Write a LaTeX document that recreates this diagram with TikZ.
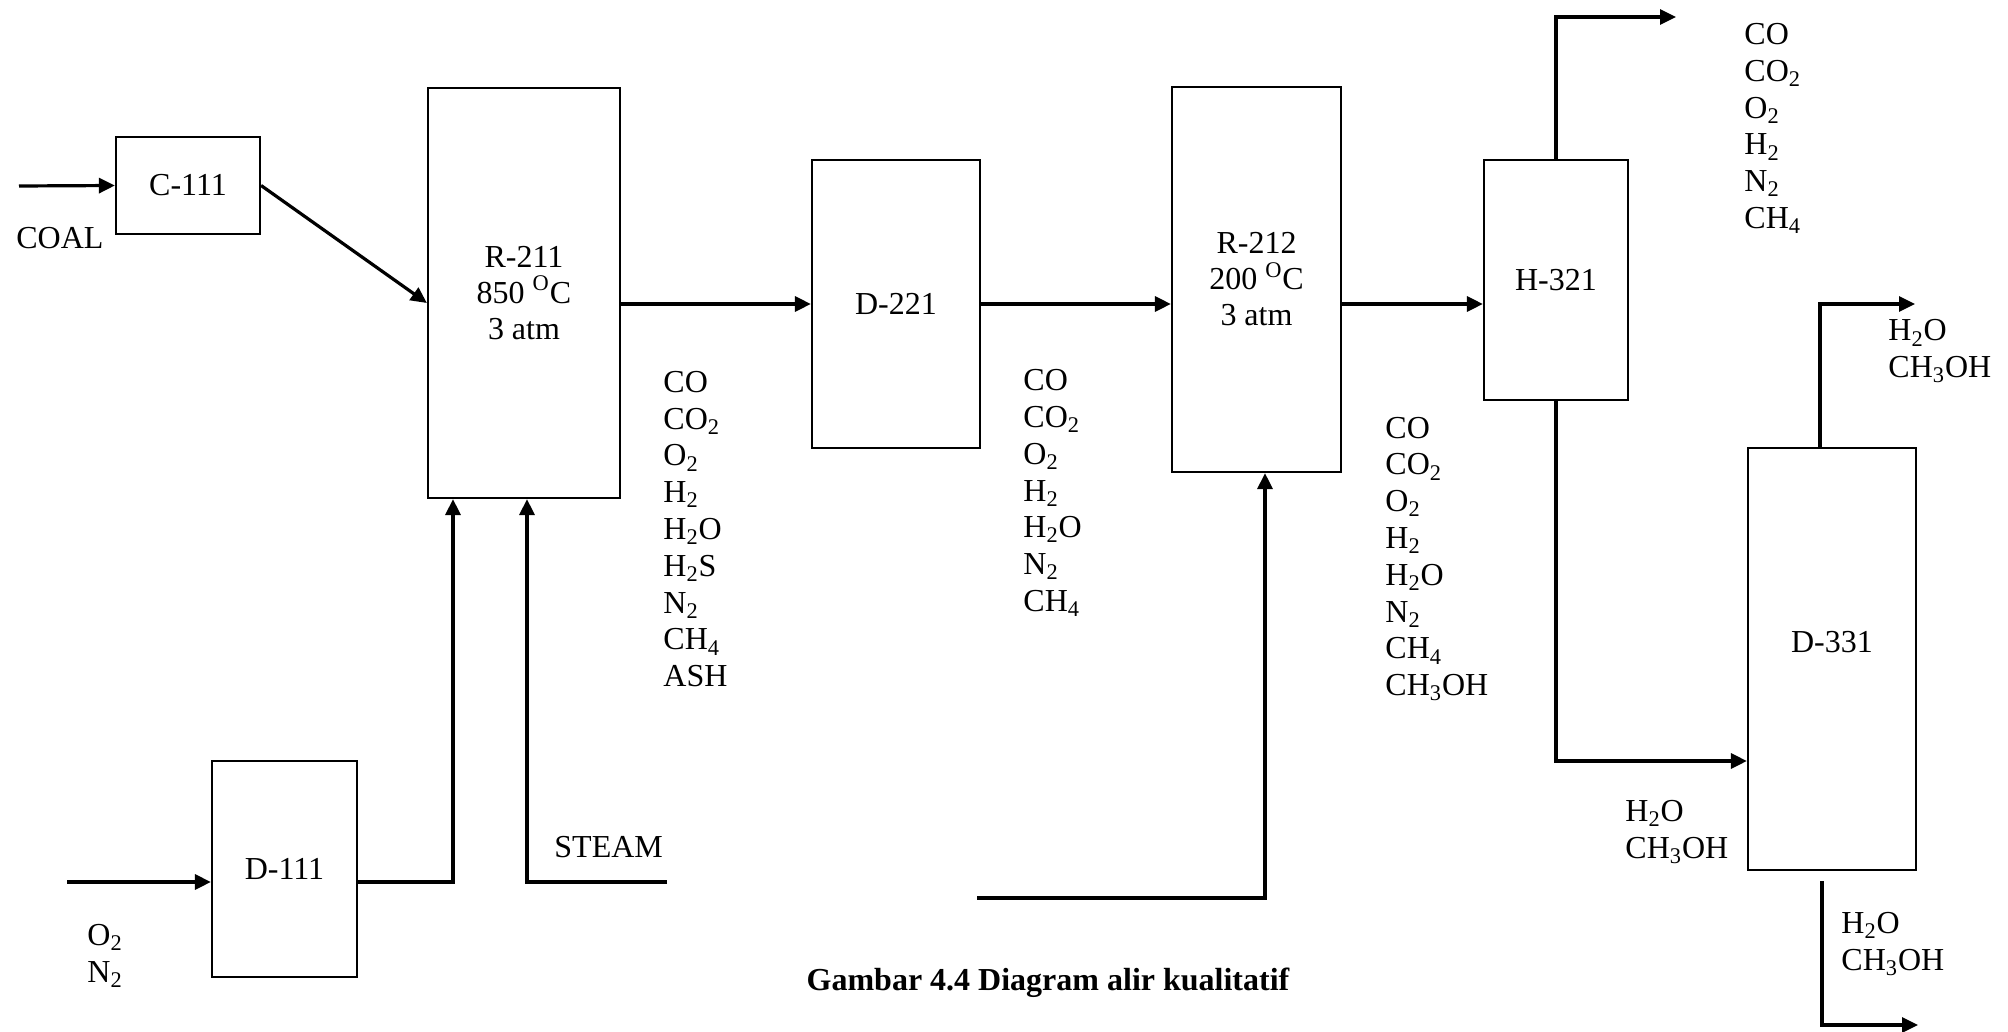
\documentclass[tikz,border=0pt]{standalone}
\usepackage{fontspec}
\setmainfont{Liberation Serif}
\usetikzlibrary{arrows.meta}
\newcommand{\chsub}[1]{\textsubscript{#1}}
\begin{document}
\begin{tikzpicture}[x=0.5pt,y=-0.5pt,
  box/.style={draw, line width=1.1pt, inner sep=0pt, align=center, font=\fontsize{16}{18}\selectfont},
  txt/.style={align=left, anchor=west, inner sep=0pt, font=\fontsize{16}{18.4}\selectfont},
  flow/.style={line width=1.6pt, -{Triangle[length=8pt,width=7.5pt]}}
]
\useasboundingbox (0,0) rectangle (2008,1032);

% equipment
\node[box, minimum width=72pt, minimum height=48.5pt] (C111) at (188,185.5) {C-111};
\node[box, minimum width=96pt, minimum height=205pt] (R211) at (524,293) {R-211\\850 \textsuperscript{O}C\\3 atm};
\node[box, minimum width=84pt, minimum height=144pt] (D221) at (896,304) {D-221};
\node[box, minimum width=84.5pt, minimum height=192.5pt] (R212) at (1256.5,279.5) {R-212\\200 \textsuperscript{O}C\\3 atm};
\node[box, minimum width=72pt, minimum height=120pt] (H321) at (1556,280) {H-321};
\node[box, minimum width=84pt, minimum height=211pt] (D331) at (1832,659) {};
\node[font=\fontsize{16}{18}\selectfont, inner sep=0pt] (D331lbl) at (1832,642) {D-331};
\node[box, minimum width=72.5pt, minimum height=108pt] (D111) at (284.5,869) {D-111};

% free ends
\coordinate (coalin) at (19,186);
\coordinate (gasout) at (1676,17);
\coordinate (liqtop) at (1915,304);
\coordinate (liqbot) at (1918,1025);
\coordinate (o2in) at (67,882);
\coordinate (steamin) at (667,882);
\coordinate (feedin) at (977,898);

% streams
\draw[flow] (coalin) -- (C111.west);
\draw[flow] (C111.east) -- ([yshift=-5pt]R211.west);
\draw[flow] (R211.east |- D221.west) -- (D221.west);
\draw[flow] (D221.east) -- (D221.east -| R212.west);
\draw[flow] (R212.east |- D221.east) -- (H321.west |- D221.east);
\draw[flow] (H321.north) |- (gasout);
\draw[flow] (H321.south) |- ([yshift=-51pt]D331.west);
\draw[flow] ([xshift=-6pt]D331.north) |- (liqtop);
\draw[flow, shorten <=5pt] ([xshift=-5pt]D331.south) |- (liqbot);
\draw[flow] (o2in) -- ([yshift=-6.5pt]D111.west);
\draw[flow] ([yshift=-6.5pt]D111.east) -| ([xshift=-35.5pt]R211.south);
\draw[flow] (steamin) -| ([xshift=1.5pt]R211.south);
\draw[flow] (feedin) -| ([xshift=4.25pt]R212.south);

% labels
\node[txt] (coal) at (16,238) {COAL};
\node[txt] (o2n2) at (87,956) {O\chsub2\\N\chsub2};
\node[txt] (steam) at (554,847) {STEAM};
\node[txt] (s1) at (663,529) {CO\\CO\chsub2\\O\chsub2\\H\chsub2\\H\chsub2O\\H\chsub2S\\N\chsub2\\CH\chsub4\\ASH};
\node[txt] (s2) at (1023,493) {CO\\CO\chsub2\\O\chsub2\\H\chsub2\\H\chsub2O\\N\chsub2\\CH\chsub4};
\node[txt] (s3) at (1385,559) {CO\\CO\chsub2\\O\chsub2\\H\chsub2\\H\chsub2O\\N\chsub2\\CH\chsub4\\CH\chsub3OH};
\node[txt] (s4) at (1744,128.5) {CO\\CO\chsub2\\O\chsub2\\H\chsub2\\N\chsub2\\CH\chsub4};
\node[txt] (s5) at (1888,351.5) {H\chsub2O\\CH\chsub3OH};
\node[txt] (s6) at (1625,832) {H\chsub2O\\CH\chsub3OH};
\node[txt] (s7) at (1841,944) {H\chsub2O\\CH\chsub3OH};
\node[font=\bfseries\fontsize{16}{18}\selectfont, inner sep=0pt] (cap) at (1048,983) {Gambar 4.4 Diagram alir kualitatif};
\end{tikzpicture}
\end{document}
